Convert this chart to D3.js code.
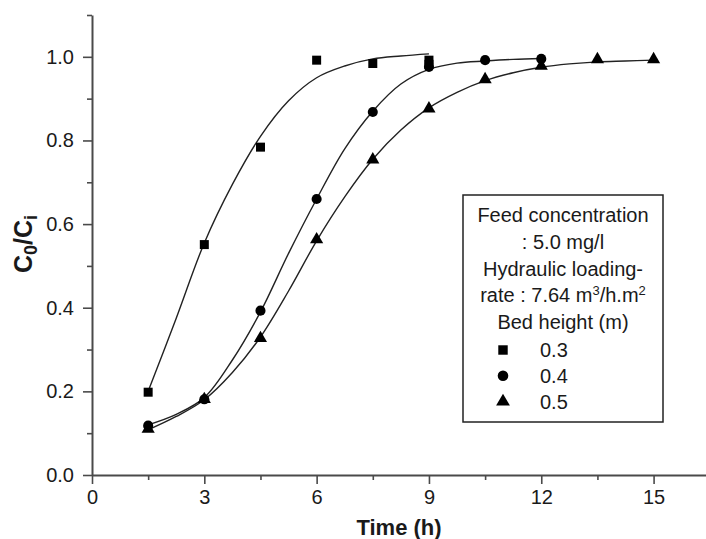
<!DOCTYPE html>
<html>
<head>
<meta charset="utf-8">
<script src="https://cdn.jsdelivr.net/npm/d3@7"></script>
<style>
  html, body { margin: 0; padding: 0; background: #fff; }
  svg { display: block; font-family: "Liberation Sans", Arial, sans-serif; }
</style>
</head>
<body>
<svg id="chart" width="706" height="539"></svg>
<script>
// ---------- data ----------
const xMajorTicks = [0, 3, 6, 9, 12, 15];
const xMinorTicks = [1.5, 4.5, 7.5, 10.5, 13.5];
const yMajorTicks = [0, 0.2, 0.4, 0.6, 0.8, 1.0];
const yMinorTicks = [0.1, 0.3, 0.5, 0.7, 0.9, 1.1];

const bedHeights = ["0.3", "0.4", "0.5"];

// measured points (time h, C0/Ci)
const pts03 = [[1.5, 0.198], [3, 0.551], [4.5, 0.784], [6, 0.992], [7.5, 0.984], [9, 0.992], [9, 0.982]];
const pts04 = [[1.5, 0.118], [3, 0.181], [4.5, 0.393], [6, 0.66], [7.5, 0.868], [9, 0.976], [10.5, 0.992], [12, 0.995]];
const pts05 = [[1.5, 0.11], [3, 0.181], [4.5, 0.327], [6, 0.563], [7.5, 0.754], [9, 0.876], [10.5, 0.946], [12, 0.978], [13.5, 0.994], [15, 0.994]];

// fitted curves
const fit03 = [[1.5, 0.20], [2.25, 0.375], [3, 0.555], [3.75, 0.695], [4.5, 0.81], [5.25, 0.895], [6, 0.95], [6.75, 0.978], [7.5, 0.995], [8.25, 1.002], [9, 1.007]];
const fit04 = [[1.5, 0.12], [2.25, 0.145], [3, 0.185], [3.75, 0.275], [4.5, 0.39], [5.25, 0.53], [6, 0.66], [6.75, 0.78], [7.5, 0.87], [8.25, 0.935], [9, 0.97], [9.75, 0.985], [10.5, 0.99], [11.25, 0.994], [12, 0.996]];
const fit05 = [[1.5, 0.108], [2.25, 0.14], [3, 0.18], [3.75, 0.245], [4.5, 0.33], [5.25, 0.44], [6, 0.56], [6.75, 0.665], [7.5, 0.755], [8.25, 0.825], [9, 0.878], [9.75, 0.915], [10.5, 0.943], [11.25, 0.962], [12, 0.975], [12.75, 0.983], [13.5, 0.988], [14.25, 0.99], [15, 0.992]];

const legendLines = ["Feed concentration", ": 5.0 mg/l", "Hydraulic loading-", "rate : 7.64 m3/h.m2", "Bed height (m)"];

// ---------- layout ----------
const svg = d3.select("#chart");
const x = d3.scaleLinear().domain([0, 16.4]).range([92, 706]);
const y = d3.scaleLinear().domain([0, 1.1]).range([475, 15]);
const axisColor = "#4a4a4a";
const textColor = "#1a1a1a";

// axes
function styleAxis(g) {
  g.selectAll(".domain").attr("stroke", axisColor).attr("stroke-width", 2);
  g.selectAll(".tick line").attr("stroke", axisColor).attr("stroke-width", 1.6);
  g.selectAll(".tick text").attr("fill", textColor).style("font-size", "20px")
    .style("font-family", "'Liberation Sans', Arial, sans-serif");
}

const gx = svg.append("g").attr("transform", `translate(0,${y(0)})`)
  .call(d3.axisBottom(x).tickValues(xMajorTicks).tickFormat(d3.format("d")).tickSize(9).tickPadding(6).tickSizeOuter(0));
styleAxis(gx);
const gxm = svg.append("g").attr("transform", `translate(0,${y(0)})`)
  .call(d3.axisBottom(x).tickValues(xMinorTicks).tickFormat("").tickSize(5).tickSizeOuter(0));
styleAxis(gxm);
gxm.select(".domain").remove();

const gy = svg.append("g").attr("transform", `translate(${x(0)},0)`)
  .call(d3.axisLeft(y).tickValues(yMajorTicks).tickFormat(d3.format(".1f")).tickSize(9).tickPadding(9).tickSizeOuter(0));
styleAxis(gy);
const gym = svg.append("g").attr("transform", `translate(${x(0)},0)`)
  .call(d3.axisLeft(y).tickValues(yMinorTicks).tickFormat("").tickSize(5).tickSizeOuter(0));
styleAxis(gym);
gym.select(".domain").remove();

// axis titles
svg.append("text")
  .attr("x", (x.range()[0] + x.range()[1]) / 2).attr("y", 535)
  .attr("text-anchor", "middle").attr("fill", textColor)
  .style("font-size", "22px").style("font-weight", "bold")
  .text("Time (h)");

const yt = svg.append("text")
  .attr("transform", `translate(32,244) rotate(-90)`)
  .attr("text-anchor", "middle").attr("fill", textColor)
  .style("font-size", "25px").style("font-weight", "bold");
yt.append("tspan").text("C");
yt.append("tspan").attr("baseline-shift", "-25%").style("font-size", "18px").text("0");
yt.append("tspan").text("/C");
yt.append("tspan").attr("baseline-shift", "-25%").style("font-size", "18px").text("i");

// curves
const line = d3.line().x(d => x(d[0])).y(d => y(d[1])).curve(d3.curveCatmullRom.alpha(0.5));
[fit03, fit04, fit05].forEach(f => {
  svg.append("path").datum(f).attr("d", line)
    .attr("fill", "none").attr("stroke", "#222").attr("stroke-width", 1.4);
});

// markers
const symbols = [d3.symbolSquare, d3.symbolCircle, d3.symbolTriangle];
const symSizes = [81, 80, 75];
[pts03, pts04, pts05].forEach((pts, i) => {
  svg.append("g").selectAll("path").data(pts).join("path")
    .attr("transform", d => `translate(${x(d[0])},${y(d[1])})`)
    .attr("d", d3.symbol().type(symbols[i]).size(symSizes[i]))
    .attr("fill", "#000");
});

// legend
const lg = svg.append("g");
lg.append("rect").attr("x", 463).attr("y", 195).attr("width", 200).attr("height", 227)
  .attr("fill", "#fff").attr("stroke", "#222").attr("stroke-width", 1.5);
const lx = 563, ly0 = 222, lstep = 26.8;
legendLines.forEach((t, i) => {
  const txt = lg.append("text").attr("x", lx).attr("y", ly0 + i * lstep)
    .attr("text-anchor", "middle").attr("fill", textColor).style("font-size", "20px");
  if (t.indexOf("m3/h.m2") >= 0) {
    txt.append("tspan").text("rate : 7.64 m");
    txt.append("tspan").attr("baseline-shift", "super").style("font-size", "13px").text("3");
    txt.append("tspan").text("/h.m");
    txt.append("tspan").attr("baseline-shift", "super").style("font-size", "13px").text("2");
  } else {
    txt.text(t);
  }
});
bedHeights.forEach((h, i) => {
  const cy = 350 + i * 25.8;
  lg.append("path").attr("transform", `translate(503,${cy})`)
    .attr("d", d3.symbol().type(symbols[i]).size(symSizes[i] * 1.1)).attr("fill", "#000");
  lg.append("text").attr("x", 540).attr("y", cy + 7).attr("fill", textColor)
    .style("font-size", "20px").text(h);
});
</script>
</body>
</html>
